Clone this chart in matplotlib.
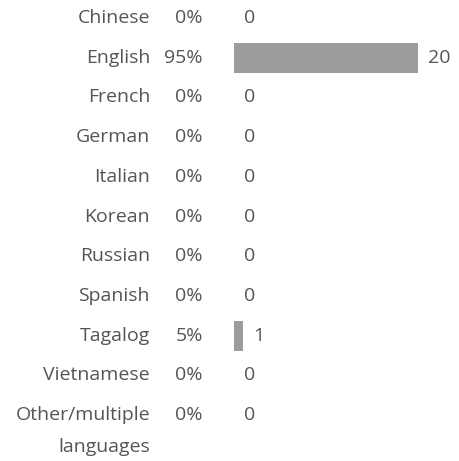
import matplotlib
matplotlib.use("Agg")
import matplotlib.pyplot as plt

categories = ["Chinese", "English", "French", "German", "Italian", "Korean",
              "Russian", "Spanish", "Tagalog", "Vietnamese",
              "Other/multiple\nlanguages"]
percents = ["0%", "95%", "0%", "0%", "0%", "0%", "0%", "0%", "5%", "0%", "0%"]
counts = [0, 20, 0, 0, 0, 0, 0, 0, 1, 0, 0]

W, H, DPI = 459, 461, 100
TEXT = "#555555"
BAR = "#9c9c9c"
FONT = "Open Sans"

fig = plt.figure(figsize=(W / DPI, H / DPI), dpi=DPI)
ax = fig.add_axes([0, 0, 1, 1])
ax.set_axis_off()

# pixel geometry: bar origin, scale and row pitch
x0_px, unit_px = 234, 9.2
y0_px, row_px = 18, 39.7
ax.set_xlim(-x0_px / unit_px, (W - x0_px) / unit_px)
ax.set_ylim((H - y0_px) / row_px, -y0_px / row_px)

ys = list(range(len(categories)))
ax.barh(ys, counts, height=30 / row_px, left=0, color=BAR, edgecolor="none")

cat_x = (150 - x0_px) / unit_px
pct_x = (203 - x0_px) / unit_px
fs = 14
for y, cat, pct, n in zip(ys, categories, percents, counts):
    lines = cat.split("\n")
    ax.text(cat_x, y, lines[0], ha="right", va="center", fontsize=fs,
            color=TEXT, family=FONT)
    for k, extra in enumerate(lines[1:], start=1):
        ax.text(cat_x, y + k * 32 / row_px, extra, ha="right", va="center",
                fontsize=fs, color=TEXT, family=FONT)
    ax.text(pct_x, y, pct, ha="right", va="center", fontsize=fs,
            color=TEXT, family=FONT)
    ax.annotate(str(n), xy=(n, y), xytext=(7, 0), textcoords="offset points",
                ha="left", va="center", fontsize=fs, color=TEXT, family=FONT)

fig.savefig("out.png", dpi=DPI, facecolor="white")
